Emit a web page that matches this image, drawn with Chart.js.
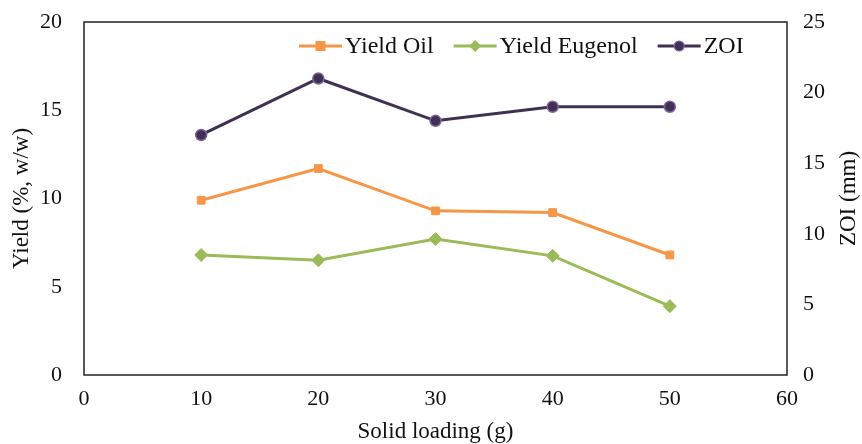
<!DOCTYPE html>
<html>
<head>
<meta charset="utf-8">
<script src="https://cdn.jsdelivr.net/npm/chart.js@4.4.1/dist/chart.umd.min.js"></script>
<style>
  html, body { margin: 0; padding: 0; background: #fff; }
  #wrap { width: 862px; height: 444px; position: relative; }
</style>
</head>
<body>
<div id="wrap"><canvas id="chart"></canvas></div>
<script>
// Solid loading (g) and the measured responses
const solidLoading = [10, 20, 30, 40, 50];
const yieldOil = [9.9, 11.7, 9.3, 9.2, 6.8];
const yieldEugenol = [6.8, 6.5, 7.7, 6.75, 3.9];
const zoi = [17, 21, 18, 19, 19];

const seriesNames = ['Yield Oil', 'Yield Eugenol', 'ZOI'];
const xTitle = 'Solid loading (g)';
const yLeftTitle = 'Yield (%, w/w)';
const yRightTitle = 'ZOI (mm)';

const FONT = '"Liberation Serif", "Times New Roman", serif';
const TEXT = '#111';
const TICK_SIZE = 22;
const TITLE_SIZE = 23;
const LEGEND_SIZE = 24;

const pts = (vals) => solidLoading.map((x, i) => ({ x, y: vals[i] }));

function drawText(ctx, text, x, y, angle) {
  ctx.save();
  ctx.translate(x, y);
  ctx.rotate(angle);
  ctx.fillText(text, 0, 0);
  ctx.restore();
}

// Fixed axis sizes without label overhang padding
function fixSize(w, h) {
  return (s) => {
    if (w !== null) s.width = w;
    if (h !== null) s.height = h;
    s.paddingTop = 0; s.paddingBottom = 0;
    s.paddingLeft = 0; s.paddingRight = 0;
  };
}

// Plot frame, axis titles and a legend with line+marker swatches
const framePlugin = {
  id: 'frame',
  afterDraw(chart) {
    const { ctx, chartArea: a } = chart;
    ctx.save();
    ctx.strokeStyle = '#222';
    ctx.lineWidth = 1.5;
    ctx.strokeRect(a.left, a.top, a.right - a.left, a.bottom - a.top);

    ctx.fillStyle = TEXT;
    ctx.font = TITLE_SIZE + 'px ' + FONT;
    ctx.textAlign = 'center';
    ctx.textBaseline = 'middle';
    const midY = (a.top + a.bottom) / 2;
    drawText(ctx, yLeftTitle, 22, midY, -Math.PI / 2);
    drawText(ctx, yRightTitle, 849, midY, -Math.PI / 2);
    drawText(ctx, xTitle, (a.left + a.right) / 2, 432, 0);
    ctx.restore();

    // legend
    ctx.save();
    ctx.font = LEGEND_SIZE + 'px ' + FONT;
    ctx.textBaseline = 'middle';
    ctx.textAlign = 'left';
    const y = 46;
    let x = 299;
    chart.data.datasets.forEach((ds) => {
      ctx.strokeStyle = ds.borderColor;
      ctx.lineWidth = 3;
      ctx.beginPath();
      ctx.moveTo(x, y);
      ctx.lineTo(x + 43, y);
      ctx.stroke();
      const cx = x + 21.5;
      ctx.fillStyle = ds.pointBackgroundColor;
      ctx.strokeStyle = ds.pointBorderColor;
      ctx.lineWidth = 1.2;
      if (ds.pointStyle === 'rect') {
        ctx.fillRect(cx - 5, y - 5, 10, 10);
      } else if (ds.pointStyle === 'rectRot') {
        ctx.beginPath();
        ctx.moveTo(cx, y - 6); ctx.lineTo(cx + 6, y);
        ctx.lineTo(cx, y + 6); ctx.lineTo(cx - 6, y);
        ctx.closePath(); ctx.fill();
      } else {
        ctx.beginPath();
        ctx.arc(cx, y, 5, 0, Math.PI * 2);
        ctx.fill(); ctx.stroke();
      }
      ctx.fillStyle = TEXT;
      ctx.fillText(ds.label, x + 46, y + 1);
      x += 46 + ctx.measureText(ds.label).width + 20;
    });
    ctx.restore();
  }
};

new Chart(document.getElementById('chart'), {
  type: 'line',
  data: {
    datasets: [
      {
        label: seriesNames[0],
        data: pts(yieldOil),
        yAxisID: 'y',
        borderColor: '#F79646',
        backgroundColor: '#F79646',
        pointBackgroundColor: '#F79646',
        pointBorderColor: '#F79646',
        pointStyle: 'rect',
        pointRadius: 5.5,
        borderWidth: 3,
        pointBorderWidth: 1
      },
      {
        label: seriesNames[1],
        data: pts(yieldEugenol),
        yAxisID: 'y',
        borderColor: '#9BBB59',
        backgroundColor: '#9BBB59',
        pointBackgroundColor: '#9BBB59',
        pointBorderColor: '#9BBB59',
        pointStyle: 'rectRot',
        pointRadius: 6.5,
        borderWidth: 3,
        pointBorderWidth: 1
      },
      {
        label: seriesNames[2],
        data: pts(zoi),
        yAxisID: 'y2',
        borderColor: '#403152',
        backgroundColor: '#403152',
        pointBackgroundColor: '#3F3151',
        pointBorderColor: '#8064A2',
        pointStyle: 'circle',
        pointRadius: 5.5,
        borderWidth: 3,
        pointBorderWidth: 1.5
      }
    ]
  },
  options: {
    responsive: true,
    maintainAspectRatio: false,
    animation: false,
    layout: { padding: { top: 22, left: 0, right: 0, bottom: 0 } },
    plugins: {
      legend: { display: false },
      tooltip: { enabled: false }
    },
    scales: {
      x: {
        type: 'linear',
        min: 0, max: 60,
        ticks: { stepSize: 10, color: TEXT, font: { family: FONT, size: TICK_SIZE }, padding: 11 },
        grid: { display: false, drawTicks: false },
        border: { display: false },
        afterFit: fixSize(null, 69)
      },
      y: {
        position: 'left',
        min: 0, max: 20,
        ticks: { stepSize: 5, color: TEXT, font: { family: FONT, size: TICK_SIZE }, padding: 22 },
        grid: { display: false, drawTicks: false },
        border: { display: false },
        afterFit: fixSize(84, null)
      },
      y2: {
        position: 'right',
        min: 0, max: 25,
        ticks: { stepSize: 5, color: TEXT, font: { family: FONT, size: TICK_SIZE }, padding: 16 },
        grid: { display: false, drawTicks: false },
        border: { display: false },
        afterFit: fixSize(75, null)
      }
    }
  },
  plugins: [framePlugin]
});
</script>
</body>
</html>
